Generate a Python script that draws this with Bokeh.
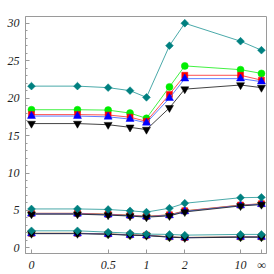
import math
import numpy as np
from bokeh.plotting import figure
from bokeh.models import FixedTicker, Range1d
from bokeh.embed import file_html
from bokeh.resources import INLINE

# x values (parameter t); infinity is the last point
t_values = [0, 0.25, 0.5, 0.75, 1, 1.5, 2, 10, math.inf]
tick_t = [0, 0.5, 1, 2, 10, math.inf]
tick_labels = ["0", "0.5", "1", "2", "10", "\u221e"]

# upper group
green_high = [18.45, 18.45, 18.4, 18.0, 17.3, 21.5, 24.3, 23.8, 23.3]
red_high = [17.8, 17.8, 17.75, 17.45, 16.9, 20.5, 23.05, 23.05, 22.4]
blue_high = [17.6, 17.6, 17.5, 17.2, 16.7, 20.0, 22.6, 22.6, 22.2]
black_high = [16.6, 16.6, 16.45, 16.1, 15.8, 18.7, 21.2, 21.75, 21.4]
teal_high = [21.6, 21.6, 21.4, 21.0, 20.1, 27.0, 30.0, 27.6, 26.4]

# middle group
green_mid = [4.6, 4.6, 4.48, 4.35, 4.2, 4.4, 4.92, 5.7, 5.87]
red_mid = [4.62, 4.62, 4.5, 4.37, 4.22, 4.42, 4.95, 5.72, 5.9]
blue_mid = [4.55, 4.55, 4.43, 4.3, 4.16, 4.34, 4.87, 5.66, 5.83]
black_mid = [4.5, 4.5, 4.38, 4.25, 4.1, 4.28, 4.8, 5.6, 5.78]
teal_mid = [5.2, 5.2, 5.13, 4.95, 4.78, 5.3, 5.96, 6.7, 6.75]

# lower group
green_low = [1.94, 1.94, 1.86, 1.73, 1.68, 1.47, 1.38, 1.47, 1.47]
red_low = [1.95, 1.95, 1.87, 1.74, 1.69, 1.48, 1.39, 1.48, 1.48]
blue_low = [1.92, 1.92, 1.84, 1.71, 1.66, 1.45, 1.36, 1.45, 1.45]
black_low = [1.9, 1.9, 1.82, 1.69, 1.64, 1.43, 1.34, 1.43, 1.43]
teal_low = [2.28, 2.28, 2.1, 1.97, 1.84, 1.8, 1.7, 1.8, 1.8]


def squash(t):
    return 1.0 if math.isinf(t) else t / (1.0 + t)


u = [squash(t) for t in t_values]
tick_u = [squash(t) for t in tick_t]

p = figure(width=274, height=274, output_backend="svg", toolbar_location=None,
           x_range=Range1d(-0.026, 1.022), y_range=Range1d(-0.75, 30.9),
           min_border_left=25, min_border_right=8, min_border_top=16,
           min_border_bottom=18)
p.grid.visible = False
p.outline_line_color = "#9a9a9a"
p.outline_line_width = 1
p.background_fill_color = "white"
p.border_fill_color = "white"

for ax in (p.xaxis[0], p.yaxis[0]):
    ax.axis_line_color = "#9a9a9a"
    ax.major_tick_line_color = "#9a9a9a"
    ax.minor_tick_line_color = "#9a9a9a"
    ax.major_tick_in = 4
    ax.major_tick_out = 0
    ax.minor_tick_in = 2
    ax.minor_tick_out = 0
    ax.major_label_text_font = "Liberation Serif"
    ax.major_label_text_font_style = "italic"
    ax.major_label_text_font_size = "12px"
    ax.major_label_text_color = "#222222"

p.yaxis[0].major_label_standoff = 6
p.xaxis[0].major_label_standoff = 4

p.yaxis[0].ticker = FixedTicker(ticks=[0, 5, 10, 15, 20, 25, 30],
                                minor_ticks=list(range(0, 31)))
p.xaxis[0].ticker = FixedTicker(ticks=tick_u, minor_ticks=[])
p.xaxis[0].major_label_overrides = {k: v for k, v in zip(tick_u, tick_labels)}

styles = [
    ("green", "#22ee22", "#00ee00", "circle", 7, 0),
    ("red", "#ff3333", "#ff0000", "square", 6, 0),
    ("blue", "#4466ff", "#0000ff", "triangle", 8, 0),
    ("black", "#222222", "#000000", "inverted_triangle", 8, 0),
    ("teal", "#2a9a9a", "#008080", "square", 5.5, math.pi / 4),
]
groups = {
    "green": [green_high, green_mid, green_low],
    "red": [red_high, red_mid, red_low],
    "blue": [blue_high, blue_mid, blue_low],
    "black": [black_high, black_mid, black_low],
    "teal": [teal_high, teal_mid, teal_low],
}

for name, lcol, mcol, marker, size, ang in styles:
    for ys in groups[name]:
        p.line(u, ys, line_color=lcol, line_width=1, line_alpha=0.85)
        p.scatter(u, ys, marker=marker, size=size, angle=ang,
                  fill_color=mcol, line_color=mcol, line_width=0.5)

open("out.html", "w").write(file_html(p, INLINE))
